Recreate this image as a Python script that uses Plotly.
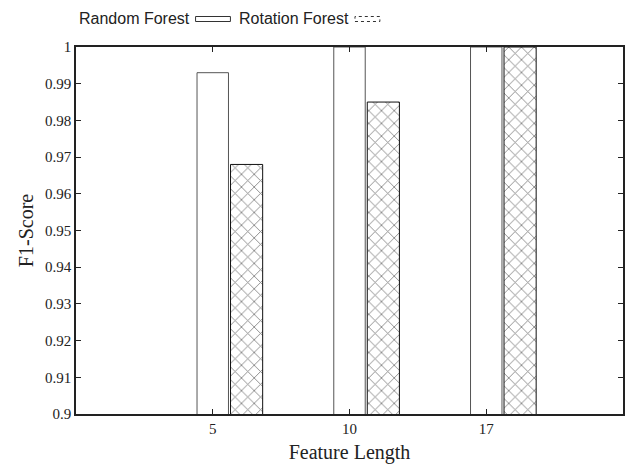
import plotly.graph_objects as go

categories = ["5", "10", "17"]
random_forest = [0.993, 1.0, 1.0]
rotation_forest = [0.968, 0.985, 1.0]
y_ticks = [0.9, 0.91, 0.92, 0.93, 0.94, 0.95, 0.96, 0.97, 0.98, 0.99, 1.0]
y_tick_text = ["0.9", "0.91", "0.92", "0.93", "0.94", "0.95", "0.96", "0.97", "0.98", "0.99", "1"]

W, H = 625, 465
L, R, T, B = 76, 0, 47, 51
pw, ph = W - L - R, H - T - B

def px(x):
    return (x - L) / pw

def py(y):
    return (H - B - y) / ph

fig = go.Figure()
fig.add_trace(go.Bar(
    x=categories, y=random_forest, name="Random Forest",
    width=0.23, offset=-0.115,
    marker=dict(color="white", line=dict(color="#555555", width=1)),
    showlegend=False,
))
fig.add_trace(go.Bar(
    x=categories, y=rotation_forest, name="Rotation Forest",
    width=0.235, offset=0.13,
    marker=dict(color="white", line=dict(color="#111111", width=1),
                pattern=dict(shape="x", fgcolor="#000000", bgcolor="white",
                             size=9, solidity=0.18)),
    showlegend=False,
))

serif = "Liberation Serif, Times New Roman, serif"
sans = "Liberation Sans, Arial, sans-serif"

fig.update_layout(
    width=W, height=H,
    margin=dict(l=L, r=R, t=T, b=B, pad=0),
    paper_bgcolor="white", plot_bgcolor="white",
    barmode="overlay",
    showlegend=False,
    xaxis=dict(
        type="category", range=[-1, 3],
        showline=True, linecolor="#222222", linewidth=1.5, mirror="allticks",
        ticks="inside", ticklen=5, tickcolor="#222222",
        showgrid=False, zeroline=False,
        tickfont=dict(family=serif, size=15, color="#222222"),
        title=dict(text="Feature Length", font=dict(family=serif, size=20, color="#222222"), standoff=9),
    ),
    yaxis=dict(
        range=[0.9, 1.0],
        tickvals=y_ticks, ticktext=y_tick_text,
        showline=True, linecolor="#222222", linewidth=1.5, mirror="allticks",
        ticks="inside", ticklen=5, tickcolor="#222222",
        showgrid=False, zeroline=False,
        tickfont=dict(family=serif, size=15, color="#222222"),
        title=dict(text="F1-Score", font=dict(family=serif, size=20, color="#222222"), standoff=6),
    ),
)

# manual key (text before sample, as in the reference)
fig.add_annotation(x=px(77), y=py(19), xref="paper", yref="paper", text="Random Forest",
                   showarrow=False, xanchor="left", yanchor="middle",
                   font=dict(family=sans, size=16, color="#222222"))
fig.add_shape(type="rect", xref="paper", yref="paper",
              x0=px(196), x1=px(231), y0=py(21.5), y1=py(16.5),
              line=dict(color="#333333", width=1), fillcolor="white")
fig.add_annotation(x=px(238), y=py(19), xref="paper", yref="paper", text="Rotation Forest",
                   showarrow=False, xanchor="left", yanchor="middle",
                   font=dict(family=sans, size=16, color="#222222"))
fig.add_shape(type="rect", xref="paper", yref="paper",
              x0=px(356), x1=px(381), y0=py(21.5), y1=py(16.5),
              line=dict(color="#333333", width=1, dash="dot"), fillcolor="white")

fig.write_html("out.html")
